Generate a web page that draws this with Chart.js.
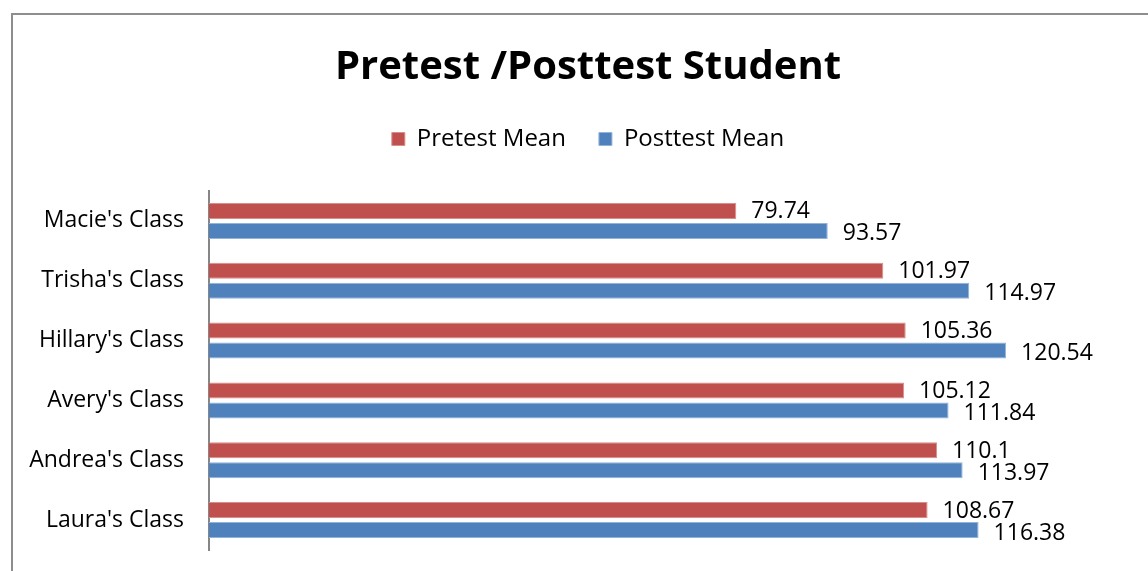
<!DOCTYPE html>
<html>
<head>
<meta charset="utf-8">
<script src="https://cdn.jsdelivr.net/npm/chart.js@4"></script>
<style>
  html, body { margin: 0; padding: 0; background: #fff; overflow: hidden; }
  #wrap { position: relative; width: 1148px; height: 571px; }
  #frame { position: absolute; left: 11px; top: 13px; width: 1200px; height: 600px;
           border: 2px solid #8e8e8e; box-sizing: border-box; }
  canvas { position: absolute; left: 0; top: 0; }
</style>
</head>
<body>
<div id="wrap">
  <div id="frame"></div>
  <canvas id="chart" width="1148" height="571"></canvas>
</div>
<script>
// -------------------- DATA --------------------
const classes = ["Macie's Class", "Trisha's Class", "Hillary's Class", "Avery's Class", "Andrea's Class", "Laura's Class"];
const pretestMean = [79.74, 101.97, 105.36, 105.12, 110.1, 108.67];
const posttestMean = [93.57, 114.97, 120.54, 111.84, 113.97, 116.38];
const seriesNames = ["Pretest Mean", "Posttest Mean"];

const FONT = "'Open Sans', 'Liberation Sans', sans-serif";

// -------------------- VALUE LABELS --------------------
const valueLabels = {
  id: "valueLabels",
  afterDatasetsDraw(chart) {
    const ctx = chart.ctx;
    ctx.save();
    ctx.font = "23px " + FONT;
    ctx.fillStyle = "#000";
    ctx.textAlign = "left";
    ctx.textBaseline = "middle";
    chart.data.datasets.forEach((ds, i) => {
      const meta = chart.getDatasetMeta(i);
      meta.data.forEach((bar, j) => {
        ctx.fillText(String(ds.data[j]), bar.x + 15, bar.y + (i === 0 ? 1 : 3));
      });
    });
    ctx.restore();
  }
};

// extra room between the legend and the plot
const legendGap = {
  id: "legendGap",
  beforeInit(chart) {
    const fit = chart.legend.fit;
    chart.legend.fit = function () {
      fit.call(this);
      this.height += 30;
    };
  }
};

// -------------------- CHART --------------------
const ctx = document.getElementById("chart").getContext("2d");
const chart = new Chart(ctx, {
  type: "bar",
  data: {
    labels: classes,
    datasets: [
      { label: seriesNames[0], data: pretestMean, backgroundColor: "#C0504D",
        borderColor: "#D68F8D", borderWidth: 1,
        categoryPercentage: 0.667, barPercentage: 0.8 },
      { label: seriesNames[1], data: posttestMean, backgroundColor: "#4F81BD",
        borderColor: "#94B3D9", borderWidth: 1,
        categoryPercentage: 0.667, barPercentage: 0.8 }
    ]
  },
  options: {
    indexAxis: "y",
    responsive: false,
    animation: false,
    layout: { padding: { top: 0, right: 0, bottom: 21, left: 28 } },
    plugins: {
      title: {
        display: true,
        text: "Pretest /Posttest Student",
        color: "#000",
        font: { family: FONT, size: 40, weight: "bold", lineHeight: 1.15 },
        padding: { top: 45, bottom: 3 }
      },
      legend: {
        display: true,
        labels: {
          color: "#000",
          font: { family: FONT, size: 24 },
          boxWidth: 13,
          boxHeight: 13,
          padding: 33
        }
      },
      tooltip: { enabled: false }
    },
    scales: {
      x: { display: false, min: 0, max: 142 },
      y: {
        grid: { display: false, drawTicks: false },
        border: { display: true, color: "#868686", width: 2 },
        ticks: { color: "#000", font: { family: FONT, size: 23 }, padding: 25 },
        afterFit(scale) {
          scale.width = 181;
          scale.paddingTop = 0;
          scale.paddingBottom = 0;
        }
      }
    }
  },
  plugins: [valueLabels, legendGap]
});
</script>
</body>
</html>
